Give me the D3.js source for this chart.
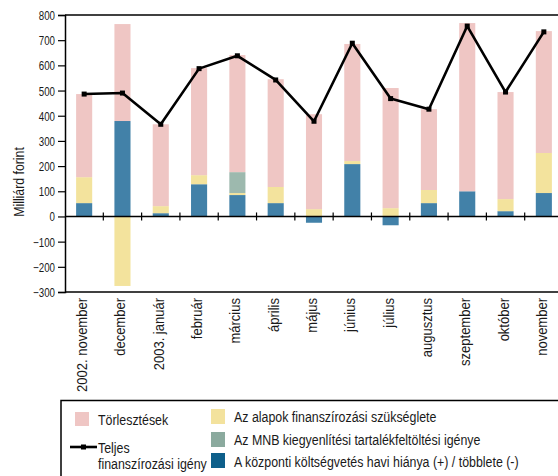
<!DOCTYPE html>
<html><head><meta charset="utf-8">
<script src="https://cdn.jsdelivr.net/npm/d3@7"></script>
<style>
html,body{margin:0;padding:0;background:#fff;}
text{font-family:"Liberation Sans",Arimo,Arial,sans-serif;fill:#1a1a1a;}
</style></head>
<body>
<svg id="c" width="558" height="476"></svg>
<script>
const categories = ["2002. november","december","2003. január","február","március","április","május","június","július","augusztus","szeptember","október","november"];
const deficit   = [53, 379, 13, 128, 85, 53, -25, 208, -35, 53, 100, 21, 93];
const funds     = [103, -276, 28, 36, 8, 64, 29, 12, 33, 52, 0, 48, 159];
const mnb       = [0, 0, 0, 0, 83, 0, 0, 0, 0, 0, 0, 0, 0];
const repay     = [330, 385, 325, 425, 465, 428, 377, 465, 477, 321, 668, 425, 484];
const total     = [486, 490, 366, 587, 638, 542, 378, 688, 468, 426, 756, 494, 733];
const yTicks    = [-300,-200,-100,0,100,200,300,400,500,600,700,800];

const seriesKeys = ["deficit","funds","mnb","repay"];
const barColors = {deficit:"#4281A8", funds:"#F3E39D", mnb:"#9DB9AE", repay:"#EFC6C4"};
const legendColors = {deficit:"#0E5F8A", funds:"#F3E29D", mnb:"#8BAA9E", repay:"#EFC6C4"};

const rows = categories.map((c,i)=>({cat:c, deficit:deficit[i], funds:funds[i], mnb:mnb[i], repay:repay[i]}));

const svg = d3.select("#c");
const x = d3.scaleBand().domain(categories).range([65, 563]).paddingInner(0.58).paddingOuter(0.29);
const y = d3.scaleLinear().domain([-300, 800]).range([292, 15]);

const stack = d3.stack().keys(seriesKeys).offset(d3.stackOffsetDiverging);
const stacked = stack(rows);

svg.append("g").selectAll("g").data(stacked).join("g")
  .attr("fill", d=>barColors[d.key])
  .selectAll("rect").data(d=>d).join("rect")
  .attr("x", d=>x(d.data.cat))
  .attr("width", x.bandwidth())
  .attr("y", d=>y(Math.max(d[0],d[1])))
  .attr("height", d=>Math.abs(y(d[0])-y(d[1])));

// frame lines
[800,-300,0].forEach(v=>{
  svg.append("line").attr("x1",65).attr("x2",558).attr("y1",y(v)).attr("y2",y(v)).attr("stroke","#000").attr("stroke-width",1.5);
});

// band-boundary ticks on zero line
const step = x.step();
const bounds = categories.slice(1).map(c => x(c) - (step - x.bandwidth())/2);
svg.append("g").selectAll("line").data(bounds).join("line")
  .attr("x1",d=>d).attr("x2",d=>d).attr("y1",y(0)-4).attr("y2",y(0)+4)
  .attr("stroke","#000").attr("stroke-width",1.2);

// y axis
const yAxis = d3.axisLeft(y).tickValues(yTicks).tickSize(7).tickPadding(0).tickFormat(d3.format("d"));
const ga = svg.append("g").attr("transform","translate(65,0)").call(yAxis);
ga.select(".domain").attr("stroke-width",1.5);
ga.selectAll(".tick line").attr("stroke-width",1.2);
ga.selectAll(".tick text").attr("font-size",12.5).attr("x",null).attr("dy",null)
  .attr("transform","translate(-10,4.5) scale(0.78,1)").attr("fill","#1a1a1a");

svg.append("text").attr("transform","translate(24,182) rotate(-90) scale(0.82,1)")
  .attr("text-anchor","middle").attr("font-size",15).text("Milliárd forint");

// x labels
svg.append("g").selectAll("text").data(categories).join("text")
  .attr("transform", d=>`translate(${x(d)+x.bandwidth()/2+3},298) rotate(-90) scale(0.93,1)`)
  .attr("text-anchor","end").attr("font-size",14)
  .text(d=>d);

// line
const lineGen = d3.line().x((d,i)=>x(categories[i])+x.bandwidth()/2).y(d=>y(d));
svg.append("path").datum(total).attr("d",lineGen).attr("fill","none").attr("stroke","#000").attr("stroke-width",2.6).attr("stroke-linejoin","round");
svg.append("g").selectAll("rect").data(total).join("rect")
  .attr("x",(d,i)=>x(categories[i])+x.bandwidth()/2-2.5).attr("y",d=>y(d)-2.5)
  .attr("width",5).attr("height",5).attr("fill","#000");

// legend
svg.append("path").attr("d","M61,476 V400.5 H558").attr("fill","none").attr("stroke","#000").attr("stroke-width",1.5);
const lg = svg.append("g");
function ltext(xx,yy,t){ lg.append("text").attr("transform",`translate(${xx},${yy}) scale(0.8,1)`).attr("font-size",15.5).text(t); }
lg.append("rect").attr("x",75).attr("y",412).attr("width",14).attr("height",14).attr("fill",legendColors.repay);
ltext(98,425,"Törlesztések");
lg.append("line").attr("x1",70).attr("x2",97).attr("y1",447).attr("y2",447).attr("stroke","#000").attr("stroke-width",2.6);
lg.append("rect").attr("x",81).attr("y",444.5).attr("width",5).attr("height",5).attr("fill","#000");
ltext(98,453,"Teljes");
ltext(98,469,"finanszírozási igény");
const items = [["funds","Az alapok finanszírozási szükséglete",409,422],["mnb","Az MNB kiegyenlítési tartalékfeltöltési igénye",432,445],["deficit","A központi költségvetés havi hiánya (+) / többlete (-)",453,467]];
items.forEach(([k,t,ry,ty])=>{
  lg.append("rect").attr("x",211).attr("y",ry).attr("width",14).attr("height",15).attr("fill",legendColors[k]);
  ltext(234,ty,t);
});
</script>
</body></html>
